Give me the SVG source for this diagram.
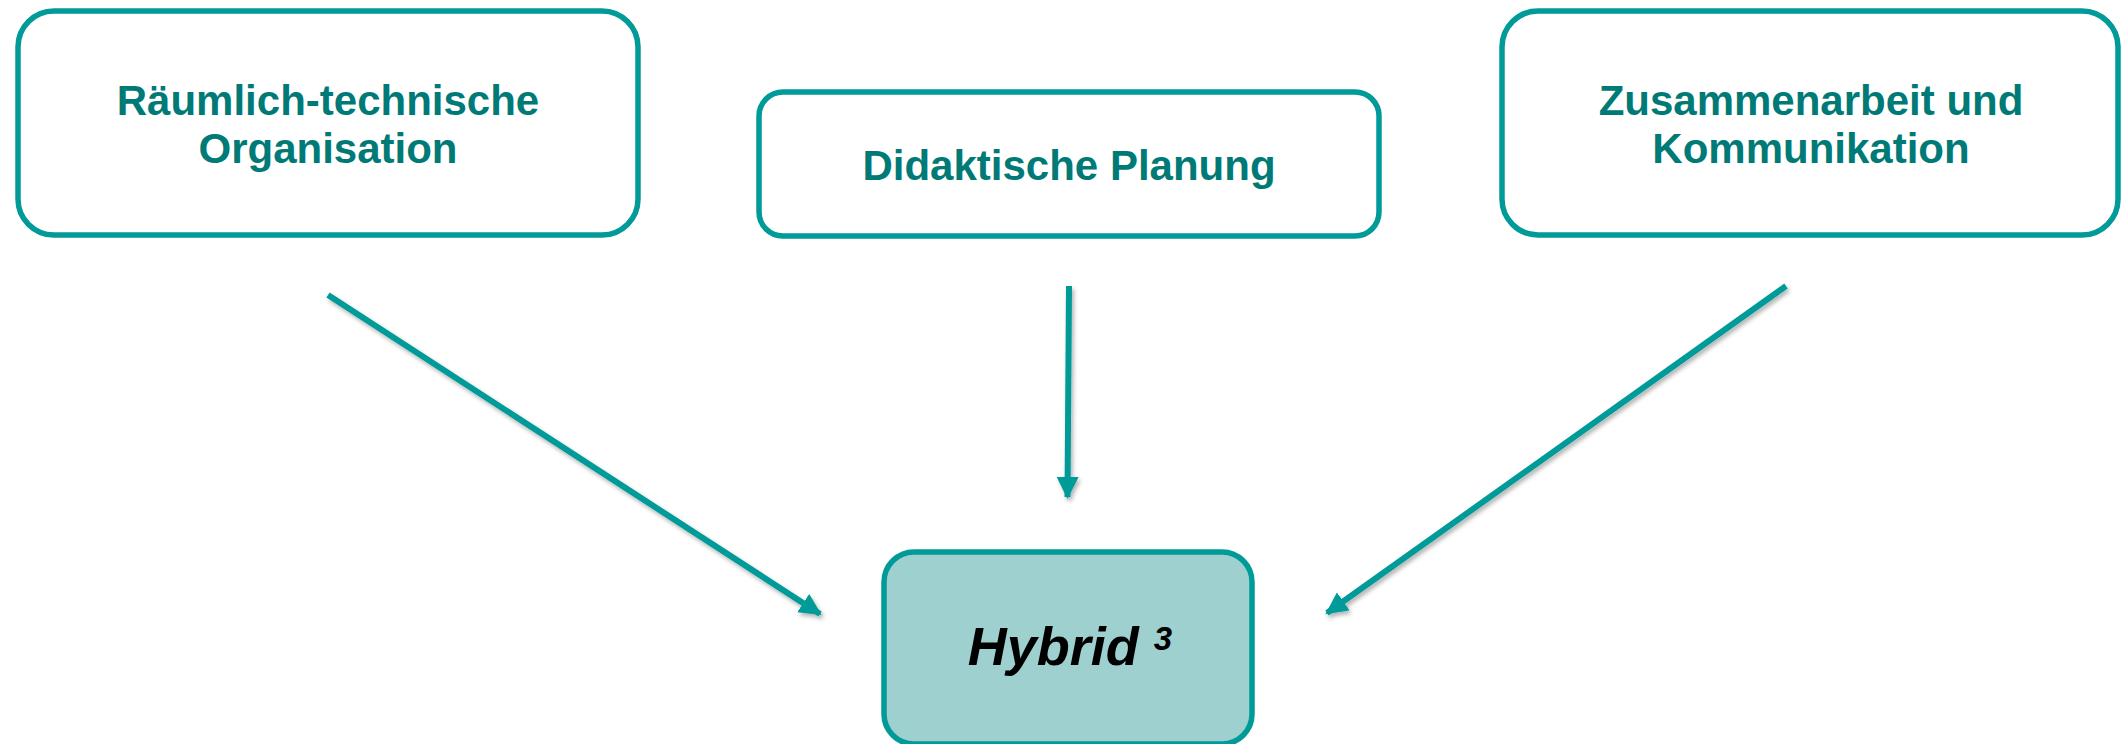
<svg xmlns="http://www.w3.org/2000/svg" width="2123" height="744" viewBox="0 0 2123 744">
  <defs>
    <style>
      .box { fill: #ffffff; stroke: #009B98; stroke-width: 5.5; }
      .hyb { fill: #9ED0D0; stroke: #009B98; stroke-width: 5.5; }
      .lbl { font-family: "Liberation Sans", Arial, sans-serif; font-weight: bold; font-size: 42px; fill: #007A76; text-anchor: middle; }
      .hlbl { font-family: "Liberation Sans", Arial, sans-serif; font-weight: bold; font-style: italic; font-size: 54px; fill: #000000; text-anchor: middle; }
      .sup { font-size: 33px; }
      .conn { stroke: #009B98; stroke-width: 6; fill: none; marker-end: url(#arrow); }
    </style>
    <marker id="arrow" markerUnits="userSpaceOnUse" markerWidth="24" markerHeight="22" refX="20" refY="11" orient="auto">
      <path d="M0,0 L22,11 L0,22 Z" fill="#009B98"/>
    </marker>
    <filter id="shadow" filterUnits="userSpaceOnUse" x="0" y="0" width="2123" height="744">
      <feDropShadow dx="2" dy="3" stdDeviation="2" flood-color="#000000" flood-opacity="0.3"/>
    </filter>
  </defs>
  <rect width="2123" height="744" fill="#ffffff"/>
  <g id="connectors" filter="url(#shadow)">
    <line class="conn" x1="328" y1="295" x2="820" y2="614"/>
    <line class="conn" x1="1069" y1="286" x2="1067.5" y2="497"/>
    <line class="conn" x1="1786" y1="286" x2="1327" y2="613"/>
  </g>
  <g id="node-raeumlich">
    <rect class="box" x="18" y="11" width="620" height="224" rx="36"/>
    <text class="lbl" x="328" y="115">Räumlich-technische</text>
    <text class="lbl" x="328" y="163">Organisation</text>
  </g>
  <g id="node-didaktisch">
    <rect class="box" x="759" y="92" width="620" height="144" rx="24"/>
    <text class="lbl" x="1069" y="180">Didaktische Planung</text>
  </g>
  <g id="node-zusammenarbeit">
    <rect class="box" x="1502" y="11" width="616" height="224" rx="36"/>
    <text class="lbl" x="1811" y="115">Zusammenarbeit und</text>
    <text class="lbl" x="1811" y="163">Kommunikation</text>
  </g>
  <g id="node-hybrid">
    <rect class="hyb" x="884" y="552" width="368" height="192" rx="30"/>
    <text class="hlbl" x="1070" y="665">Hybrid <tspan class="sup" dy="-15">3</tspan></text>
  </g>
</svg>
